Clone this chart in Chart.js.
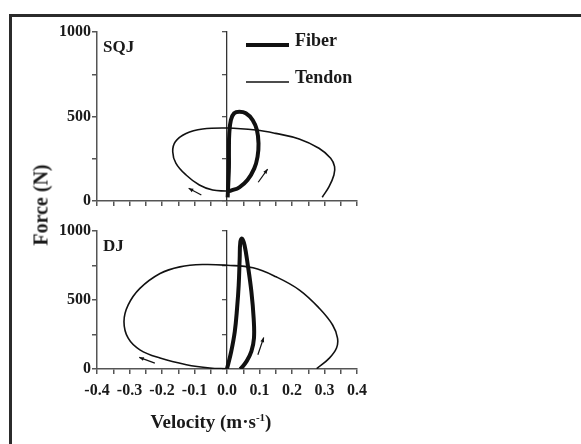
<!DOCTYPE html>
<html>
<head>
<meta charset="utf-8">
<title>Force-velocity loops</title>
<script src="https://cdn.jsdelivr.net/npm/chart.js@4.4.1/dist/chart.umd.min.js"></script>
<style>
  html, body { margin: 0; padding: 0; background: #fff; }
  #wrap { position: relative; width: 581px; height: 444px; overflow: hidden; background: #fff; }
  #wrap canvas { position: absolute; left: 0; top: 0; }
  .frame-top { position: absolute; left: 9px; top: 14px; right: 0; height: 3px; background: #2b2b2b; }
  .frame-left { position: absolute; left: 9px; top: 14px; bottom: 0; width: 3px; background: #2b2b2b; }
  .axis-title {
    position: absolute; white-space: nowrap; color: #1a1a1a;
    font-family: "Liberation Serif", "Times New Roman", serif; font-weight: bold; font-size: 19px;
  }
  #xTitle { left: 211px; top: 422px; transform: translate(-50%, -50%); }
  #yTitle { left: 41px; top: 205px; font-size: 20px; transform: translate(-50%, -50%) rotate(-90deg); }
  #xTitle sup { font-size: 11px; vertical-align: 7px; line-height: 0; }
</style>
</head>
<body>
<div id="wrap">
  <div class="frame-top"></div>
  <div class="frame-left"></div>
  <canvas id="sqjChart" width="581" height="444"></canvas>
  <canvas id="djChart" width="581" height="444"></canvas>
  <div class="axis-title" id="yTitle">Force (N)</div>
  <div class="axis-title" id="xTitle">Velocity (m·s<sup>-1</sup>)</div>
</div>

<script>
// axis ticks shared by both panels
const velocityTicks = [-0.4, -0.35, -0.3, -0.25, -0.2, -0.15, -0.1, -0.05, 0, 0.05, 0.1, 0.15, 0.2, 0.25, 0.3, 0.35, 0.4];
const velocityTickLabels = ['-0.4', '-0.3', '-0.2', '-0.1', '0.0', '0.1', '0.2', '0.3', '0.4'];
const forceTicks = [0, 250, 500, 750, 1000];
const forceTickLabels = ['0', '', '500', '', '1000'];

// SQJ loops (velocity m/s, force N)
const sqjFiberV = [0.002, 0.004, 0.006, 0.006, 0.007, 0.012, 0.022, 0.038, 0.058, 0.079, 0.092, 0.097, 0.094, 0.084, 0.063, 0.038, 0.012, 0.002];
const sqjFiberF = [22, 105, 203, 302, 400, 479, 519, 528, 519, 479, 420, 341, 262, 193, 124, 81, 61, 55];
const sqjTendonV = [0.01, -0.003, -0.044, -0.085, -0.126, -0.157, -0.167, -0.159, -0.126, -0.075, 0, 0.089, 0.15, 0.222, 0.283, 0.319, 0.331, 0.329, 0.314, 0.293];
const sqjTendonF = [57, 59, 65, 95, 154, 223, 292, 351, 400, 426, 432, 420, 400, 367, 312, 253, 203, 154, 85, 22];

// DJ loops
const djFiberV = [0.04, 0.044, 0.06, 0.075, 0.083, 0.082, 0.075, 0.064, 0.054, 0.046, 0.041, 0.039, 0.036, 0.031, 0.024, 0.013, 0];
const djFiberF = [0, 7, 55, 127, 224, 368, 561, 753, 897, 945, 920, 800, 608, 440, 272, 127, 2];
const djTendonV = [0, -0.053, -0.125, -0.206, -0.268, -0.304, -0.317, -0.304, -0.268, -0.206, -0.145, -0.074, 0, 0.08, 0.151, 0.223, 0.284, 0.325, 0.34, 0.337, 0.315, 0.276];
const djTendonF = [1, 7, 31, 79, 139, 223, 343, 464, 584, 692, 740, 757, 752, 733, 668, 572, 440, 319, 224, 152, 79, 2];

// direction arrows: [tailV, tailF, headV, headF]
const sqjArrows = [[-0.079, 35, -0.118, 75], [0.096, 111, 0.125, 189]];
const djArrows = [[-0.222, 43, -0.27, 84], [0.095, 103, 0.113, 228]];

const INK = '#111';
const AXIS = '#555';
const SERIF = '"Liberation Serif", "Times New Roman", serif';
const tickFont = { family: SERIF, size: 16, weight: 'bold' };

function toPoints(vs, fs) {
  return vs.map((v, i) => ({ x: v, y: fs[i] }));
}

// panel label, direction arrows and the inline legend
const panelDecor = {
  id: 'panelDecor',
  afterDatasetsDraw(chart, args, opts) {
    const { ctx, chartArea, scales } = chart;
    const xs = scales.x, ys = scales.y;
    ctx.save();

    // arrows
    ctx.strokeStyle = INK;
    ctx.fillStyle = INK;
    ctx.lineWidth = 1.2;
    (opts.arrows || []).forEach(([v0, f0, v1, f1]) => {
      const x0 = xs.getPixelForValue(v0), y0 = ys.getPixelForValue(f0);
      const x1 = xs.getPixelForValue(v1), y1 = ys.getPixelForValue(f1);
      const a = Math.atan2(y1 - y0, x1 - x0);
      ctx.beginPath();
      ctx.moveTo(x0, y0);
      ctx.lineTo(x1, y1);
      ctx.stroke();
      ctx.beginPath();
      ctx.moveTo(x1, y1);
      ctx.lineTo(x1 - 5 * Math.cos(a - 0.4), y1 - 5 * Math.sin(a - 0.4));
      ctx.lineTo(x1 - 5 * Math.cos(a + 0.4), y1 - 5 * Math.sin(a + 0.4));
      ctx.closePath();
      ctx.fill();
    });

    // panel name
    ctx.font = 'bold 17px ' + SERIF;
    ctx.textBaseline = 'alphabetic';
    ctx.textAlign = 'left';
    ctx.fillStyle = '#1a1a1a';
    ctx.fillText(opts.label, chartArea.left + 6, chartArea.top + 20);

    // legend, drawn from the dataset styles
    if (opts.legend) {
      ctx.font = 'bold 18px ' + SERIF;
      chart.data.datasets.forEach((ds, i) => {
        const ly = chartArea.top + 13 + i * 37;
        ctx.strokeStyle = ds.borderColor;
        ctx.lineWidth = ds.borderWidth;
        ctx.beginPath();
        ctx.moveTo(chartArea.left + 149, ly);
        ctx.lineTo(chartArea.left + 192, ly);
        ctx.stroke();
        ctx.fillText(ds.label, chartArea.left + 198, ly + 1);
      });
    }
    ctx.restore();
  }
};

function makePanel(canvasId, cfg) {
  const border = { color: AXIS, width: 1.5 };
  const grid = { drawOnChartArea: false, tickLength: 5, color: AXIS, lineWidth: 1.5 };
  return new Chart(document.getElementById(canvasId), {
    type: 'scatter',
    data: {
      datasets: [
        { label: 'Fiber', data: toPoints(cfg.fiberV, cfg.fiberF), showLine: true,
          borderColor: INK, borderWidth: 4, pointRadius: 0, tension: 0.4 },
        { label: 'Tendon', data: toPoints(cfg.tendonV, cfg.tendonF), showLine: true,
          borderColor: INK, borderWidth: 1.6, pointRadius: 0, tension: 0.4 }
      ]
    },
    options: {
      responsive: false,
      animation: false,
      layout: { padding: cfg.padding },
      scales: {
        x: {
          type: 'linear', min: -0.4, max: 0.4, position: 'bottom',
          afterBuildTicks: s => { s.ticks = velocityTicks.map(v => ({ value: v })); },
          ticks: {
            display: cfg.velocityLabels, autoSkip: false, maxRotation: 0, padding: 7,
            font: tickFont, color: '#1a1a1a',
            callback: (v, i) => (i % 2 === 0 ? velocityTickLabels[i / 2] : '')
          },
          grid: grid,
          border: border,
          afterFit: s => { s.height = cfg.velocityLabels ? 30 : 10; }
        },
        y: {
          type: 'linear', min: 0, max: 1000, position: 'left',
          afterBuildTicks: s => { s.ticks = forceTicks.map(v => ({ value: v })); },
          ticks: {
            padding: 1, font: tickFont, color: '#1a1a1a',
            callback: (v, i) => forceTickLabels[i]
          },
          grid: grid,
          border: border,
          afterFit: s => { s.width = 60; }
        },
        // vertical axis through zero velocity
        yc: {
          type: 'linear', min: 0, max: 1000, position: { x: 0 },
          afterBuildTicks: s => { s.ticks = forceTicks.map(v => ({ value: v })); },
          ticks: { display: false },
          grid: { drawOnChartArea: false, tickLength: 4, color: AXIS, lineWidth: 1.3 },
          border: { color: '#333', width: 1.3 }
        }
      },
      plugins: {
        legend: { display: false },
        tooltip: { enabled: false },
        panelDecor: { label: cfg.label, arrows: cfg.arrows, legend: cfg.legend }
      }
    },
    plugins: [panelDecor]
  });
}

makePanel('sqjChart', {
  label: 'SQJ', fiberV: sqjFiberV, fiberF: sqjFiberF, tendonV: sqjTendonV, tendonF: sqjTendonF,
  arrows: sqjArrows, legend: true, velocityLabels: false,
  padding: { left: 37, right: 224, top: 32, bottom: 233 }
});

makePanel('djChart', {
  label: 'DJ', fiberV: djFiberV, fiberF: djFiberF, tendonV: djTendonV, tendonF: djTendonF,
  arrows: djArrows, legend: false, velocityLabels: true,
  padding: { left: 37, right: 224, top: 231, bottom: 45 }
});
</script>
</body>
</html>
